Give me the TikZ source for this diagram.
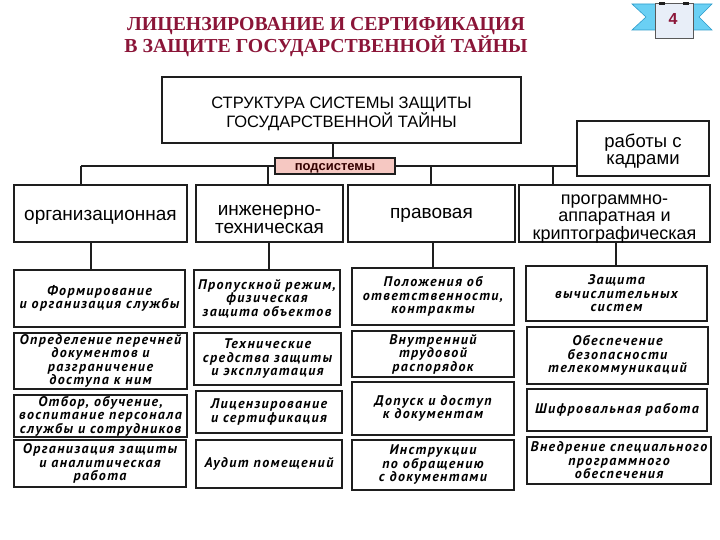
\documentclass[tikz,border=0pt]{standalone}
\usepackage{fontspec}
\setmainfont{Liberation Sans}
\newfontfamily\titlefont{Liberation Serif}
\newfontfamily\itfont{PT Sans}[LetterSpace=10]
\definecolor{linec}{HTML}{1E1E1E}
\definecolor{titlec}{HTML}{8B1538}
\definecolor{pinkc}{HTML}{F6C8C2}
\definecolor{ribbonc}{HTML}{6AD0F4}
\definecolor{ribbond}{HTML}{2E9CCB}
\definecolor{badgec}{HTML}{E8EEF8}
% name, x1, y1, x2, y2, text dy, text style, text
\newcommand\mybox[8]{%
  \node[box,minimum width={(#4-#2)*1pt},minimum height={(#5-#3)*1pt}] (#1) at ({(#2+#4)/2},{(#3+#5)/2}) {};
  \node[txt,#7] (#1t) at ({(#2+#4)/2},{(#3+#5)/2+#6}) {#8};}
\begin{document}
\begin{tikzpicture}[x=1pt,y=-1pt,
  box/.style={draw=linec, line width=1.1pt, inner sep=0pt},
  txt/.style={inner sep=0pt, align=center},
  big/.style={font=\fontsize{19}{18}\selectfont},
  mid/.style={font=\fontsize{16.5}{15.5}\selectfont},
  small/.style={font=\itfont\bfseries\itshape\fontsize{14}{13.5}\selectfont},
  conn/.style={draw=linec, line width=1.1pt}]
\useasboundingbox (0,0) rectangle (720,540);
\fill[white] (0,0) rectangle (720,540);

% title
\node[text=titlec, font=\titlefont\bfseries\fontsize{19.8}{17.5}\selectfont, align=center, inner sep=0pt] (title) at (326,37)
  {ЛИЦЕНЗИРОВАНИЕ И СЕРТИФИКАЦИЯ\\В ЗАЩИТЕ ГОСУДАРСТВЕННОЙ ТАЙНЫ};

% badge
\fill[ribbonc, draw=ribbond, line width=0.6pt] (632,4) -- (657,4) -- (657,30) -- (632,30) -- (646,17) -- cycle;
\fill[ribbonc, draw=ribbond, line width=0.6pt] (712,4) -- (691,4) -- (691,30) -- (712,30) -- (699,17) -- cycle;
\draw[gray!70!black, fill=badgec, line width=0.6pt] (655,3.5) rectangle (693,38.5);
\fill[linec] (659,2.5) rectangle (665,5);
\fill[linec] (683,2.5) rectangle (689,5);
\node[font=\bfseries\fontsize{16}{16}\selectfont, text=titlec, inner sep=0pt] (badge) at (673,19) {4};

% top boxes
\mybox{main}{162}{77}{521}{143}{3.5}{mid}{СТРУКТУРА СИСТЕМЫ ЗАЩИТЫ\\ГОСУДАРСТВЕННОЙ ТАЙНЫ}
\node[box, fill=pinkc, minimum width=120pt, minimum height=16pt] (sub) at (335,166) {};
\node[txt, font=\bfseries\fontsize{13}{13}\selectfont, text=black!80!red] (subt) at (335,168.5) {подсистемы};
\mybox{kadr}{577}{121}{709}{176}{3}{font=\fontsize{18.5}{17}\selectfont}{работы с\\кадрами}

% row 1
\mybox{a1}{14}{185}{187}{242}{4}{big}{организационная}
\mybox{b1}{196}{185}{343}{242}{5.5}{big}{инженерно-\\техническая}
\mybox{c1}{348}{185}{515}{242}{2}{big}{правовая}
\mybox{d1}{519}{185}{710}{242}{5.5}{font=\fontsize{18}{17.2}\selectfont}{программно-\\аппаратная и\\криптографическая}

% row 2
\mybox{a2}{14}{270}{185}{327}{0}{small}{Формирование\\и организация службы}
\mybox{b2}{194}{270}{340}{327}{0}{small}{Пропускной режим,\\физическая\\защита объектов}
\mybox{c2}{352}{268}{514}{325}{0}{small}{Положения об\\ответственности,\\контракты}
\mybox{d2}{526}{266}{707}{321}{0}{small}{Защита\\вычислительных\\систем}

% row 3
\mybox{a3}{14}{333}{187}{389}{0}{small}{Определение перечней\\документов и\\разграничение\\доступа к ним}
\mybox{b3}{194}{333}{341}{385}{0}{small}{Технические\\средства защиты\\и эксплуатация}
\mybox{c3}{352}{331}{514}{377}{0}{small}{Внутренний\\трудовой\\распорядок}
\mybox{d3}{527}{327}{708}{384}{0}{small}{Обеспечение\\безопасности\\телекоммуникаций}

% row 4
\mybox{a4}{14}{395}{187}{437}{0}{small}{Отбор, обучение,\\воспитание персонала\\службы и сотрудников}
\mybox{b4}{196}{391}{342}{433}{0}{small}{Лицензирование\\и сертификация}
\mybox{c4}{352}{382}{514}{435}{0}{small}{Допуск и доступ\\к документам}
\mybox{d4}{527}{389}{707}{431}{0}{small}{Шифровальная работа}

% row 5
\mybox{a5}{14}{440}{186}{487}{0}{small}{Организация защиты\\и аналитическая\\работа}
\mybox{b5}{196}{440}{342}{488}{0}{small}{Аудит помещений}
\mybox{c5}{352}{440}{514}{490}{0}{small}{Инструкции\\по обращению\\с документами}
\mybox{d5}{527}{437}{711}{484}{0}{small}{Внедрение специального\\программного\\обеспечения}

% connectors
\coordinate (m) at (333,0);
\draw[conn] (main.south -| m) -- (sub.north -| m);
\coordinate (t1) at (81,166);
\coordinate (t2) at (268,166);
\coordinate (t3) at (431,166);
\coordinate (t4) at (553,166);
\draw[conn] (t1) -- (sub.west |- t1);
\draw[conn] (sub.east |- t1) -- (kadr.west |- t1);
\draw[conn] (t1) -- (a1.north -| t1);
\draw[conn] (t2) -- (b1.north -| t2);
\draw[conn] (t3) -- (c1.north -| t3);
\draw[conn] (t4) -- (d1.north -| t4);
\coordinate (s1) at (91,0);
\coordinate (s2) at (269,0);
\coordinate (s3) at (433,0);
\coordinate (s4) at (616,0);
\draw[conn] (a1.south -| s1) -- (a2.north -| s1);
\draw[conn] (b1.south -| s2) -- (b2.north -| s2);
\draw[conn] (c1.south -| s3) -- (c2.north -| s3);
\draw[conn] (d1.south -| s4) -- (d2.north -| s4);
\end{tikzpicture}
\end{document}
